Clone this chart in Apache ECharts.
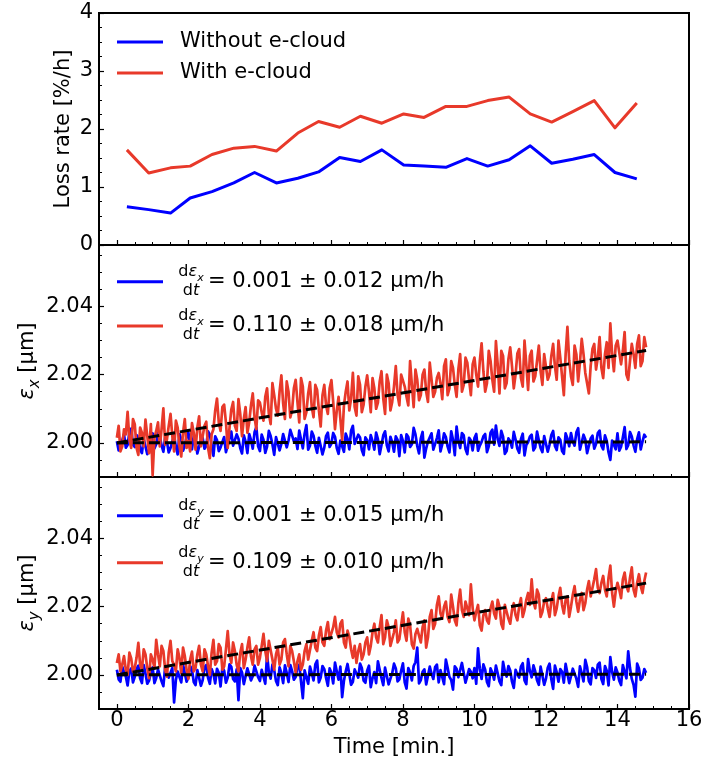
<!DOCTYPE html>
<html><head><meta charset="utf-8">
<script src="https://cdn.jsdelivr.net/npm/echarts@6/dist/echarts.min.js"></script>
<style>html,body{margin:0;padding:0;background:#fff}#c{width:706px;height:758px}</style>
</head><body><div id="c"></div>
<script>
// ---------- data ----------
const lossTime = [0.28,0.89,1.50,2.05,2.66,3.27,3.85,4.46,5.06,5.64,6.23,6.81,7.41,8.02,8.59,9.20,9.79,10.37,10.97,11.56,12.16,12.75,13.35,13.93,14.54];
const lossWithout = [0.66,0.61,0.55,0.81,0.92,1.07,1.25,1.07,1.15,1.26,1.51,1.44,1.64,1.38,1.36,1.34,1.49,1.36,1.47,1.71,1.41,1.48,1.56,1.25,1.14];
const lossWith = [1.64,1.24,1.33,1.36,1.56,1.67,1.70,1.62,1.93,2.13,2.03,2.22,2.10,2.26,2.20,2.39,2.39,2.49,2.55,2.26,2.12,2.30,2.49,2.02,2.45];

const time = [0,0.05,0.1,0.15,0.2,0.25,0.3,0.35,0.4,0.45,0.5,0.55,0.6,0.65,0.7,0.75,0.8,0.85,0.9,0.95,
1,1.05,1.1,1.15,1.2,1.25,1.3,1.35,1.4,1.45,1.5,1.55,1.6,1.65,1.7,1.75,1.8,1.85,1.9,1.95,
2,2.05,2.1,2.15,2.2,2.25,2.3,2.35,2.4,2.45,2.5,2.55,2.6,2.65,2.7,2.75,2.8,2.85,2.9,2.95,
3,3.05,3.1,3.15,3.2,3.25,3.3,3.35,3.4,3.45,3.5,3.55,3.6,3.65,3.7,3.75,3.8,3.85,3.9,3.95,
4,4.05,4.1,4.15,4.2,4.25,4.3,4.35,4.4,4.45,4.5,4.55,4.6,4.65,4.7,4.75,4.8,4.85,4.9,4.95,
5,5.05,5.1,5.15,5.2,5.25,5.3,5.35,5.4,5.45,5.5,5.55,5.6,5.65,5.7,5.75,5.8,5.85,5.9,5.95,
6,6.05,6.1,6.15,6.2,6.25,6.3,6.35,6.4,6.45,6.5,6.55,6.6,6.65,6.7,6.75,6.8,6.85,6.9,6.95,
7,7.05,7.1,7.15,7.2,7.25,7.3,7.35,7.4,7.45,7.5,7.55,7.6,7.65,7.7,7.75,7.8,7.85,7.9,7.95,
8,8.05,8.1,8.15,8.2,8.25,8.3,8.35,8.4,8.45,8.5,8.55,8.6,8.65,8.7,8.75,8.8,8.85,8.9,8.95,
9,9.05,9.1,9.15,9.2,9.25,9.3,9.35,9.4,9.45,9.5,9.55,9.6,9.65,9.7,9.75,9.8,9.85,9.9,9.95,
10,10.05,10.1,10.15,10.2,10.25,10.3,10.35,10.4,10.45,10.5,10.55,10.6,10.65,10.7,10.75,10.8,10.85,10.9,10.95,
11,11.05,11.1,11.15,11.2,11.25,11.3,11.35,11.4,11.45,11.5,11.55,11.6,11.65,11.7,11.75,11.8,11.85,11.9,11.95,
12,12.05,12.1,12.15,12.2,12.25,12.3,12.35,12.4,12.45,12.5,12.55,12.6,12.65,12.7,12.75,12.8,12.85,12.9,12.95,
13,13.05,13.1,13.15,13.2,13.25,13.3,13.35,13.4,13.45,13.5,13.55,13.6,13.65,13.7,13.75,13.8,13.85,13.9,13.95,
14,14.05,14.1,14.15,14.2,14.25,14.3,14.35,14.4,14.45,14.5,14.55,14.6,14.65,14.7,14.75,14.8];

const epsXWithout = [2.0005,1.9978,1.9982,2.0007,2.0025,1.9986,1.9994,2.0030,2.0042,1.9995,1.9988,2.0023,2.0016,1.9981,1.9970,2.0012,2.0009,1.9967,1.9979,2.0006,
2.0028,1.9984,1.9996,2.0029,2.0019,1.9993,1.9974,2.0015,2.0003,1.9972,1.9985,2.0004,2.0022,1.9989,1.9966,2.0026,2.0011,1.9977,1.9992,2.0018,
2.0031,1.9991,1.9981,2.0021,2.0006,1.9969,1.9973,2.0008,2.0014,1.9983,1.9991,2.0034,2.0024,1.9994,1.9962,2.0019,2.0008,1.9976,1.9987,2.0003,
2.0017,1.9973,1.9978,2.0013,2.0033,1.9992,1.9995,2.0025,2.0012,1.9985,1.9969,2.0022,2.0004,1.9970,2.0026,2.0009,1.9983,2.0031,2.0046,1.9990,
1.9976,2.0024,2.0009,1.9971,1.9989,2.0035,2.0020,1.9996,1.9965,2.0017,2.0015,1.9978,1.9997,2.0026,2.0029,1.9987,2.0007,2.0038,2.0041,2.0005,
2.0013,1.9982,2.0036,2.0010,1.9984,2.0027,2.0052,1.9980,1.9992,2.0033,2.0021,1.9991,1.9971,2.0015,2.0010,1.9966,1.9986,2.0020,2.0030,1.9988,
1.9998,2.0029,2.0018,1.9985,1.9968,2.0007,2.0005,1.9974,2.0027,2.0012,1.9981,2.0036,2.0050,1.9997,1.9993,2.0024,2.0016,1.9979,1.9964,2.0016,
2.0008,1.9981,2.0023,2.0005,1.9980,2.0030,2.0011,1.9967,1.9994,2.0022,2.0034,1.9993,1.9975,2.0018,2.0002,1.9974,2.0019,2.0009,1.9961,2.0023,
2.0006,1.9972,2.0025,2.0017,1.9988,1.9996,2.0044,2.0025,1.9991,1.9969,2.0013,2.0032,1.9957,1.9984,2.0004,2.0008,2.0028,1.9980,1.9982,2.0014,
2.0037,1.9975,1.9996,2.0028,2.0017,1.9989,1.9972,2.0034,2.0009,1.9964,2.0048,2.0006,1.9985,2.0029,2.0022,1.9982,1.9967,2.0015,2.0007,1.9978,
2.0014,2.0026,1.9977,1.9992,2.0003,2.0019,2.0026,1.9973,1.9990,2.0030,2.0039,1.9995,2.0051,2.0011,1.9991,2.0035,2.0018,1.9968,1.9976,2.0013,
2.0005,1.9986,2.0032,2.0010,1.9983,1.9971,2.0011,2.0027,1.9963,1.9994,2.0002,2.0018,2.0024,1.9978,1.9987,2.0033,2.0008,1.9985,1.9973,2.0020,
2.0016,1.9974,1.9995,2.0023,2.0035,1.9991,1.9979,2.0016,2.0009,1.9976,1.9968,2.0028,2.0013,1.9990,2.0029,2.0004,1.9992,2.0031,2.0043,1.9980,
1.9984,2.0024,2.0010,1.9970,1.9975,2.0013,2.0021,1.9983,1.9997,2.0029,2.0036,1.9992,1.9981,2.0022,2.0006,1.9972,1.9950,2.0007,2.0012,1.9981,
2.0028,1.9977,1.9989,2.0016,2.0046,1.9982,1.9993,2.0032,2.0019,1.9993,1.9974,2.0011,2.0031,1.9981,2.0004,2.0024,2.0015];

const epsXWith = [2.0015,2.0050,1.9975,1.9990,2.0040,2.0025,2.0091,2.0010,1.9985,2.0070,2.0055,1.9985,1.9965,2.0045,2.0030,1.9990,2.0068,2.0020,1.9970,2.0055,
1.9905,2.0015,2.0035,2.0060,1.9990,2.0040,2.0101,1.9995,2.0010,2.0050,2.0085,2.0020,1.9975,2.0065,2.0045,1.9990,1.9960,2.0030,2.0070,1.9985,
2.0005,1.9975,2.0058,2.0030,1.9980,2.0045,2.0078,1.9990,2.0020,2.0050,2.0062,1.9985,1.9955,2.0025,2.0040,2.0095,2.0130,2.0060,2.0035,2.0105,
2.0112,2.0060,1.9985,2.0045,2.0098,2.0120,2.0050,2.0035,2.0128,2.0085,2.0020,2.0070,2.0105,2.0030,2.0060,2.0110,2.0145,2.0075,2.0040,2.0125,
2.0118,2.0090,2.0065,2.0135,2.0160,2.0085,2.0055,2.0175,2.0140,2.0100,2.0080,2.0150,2.0198,2.0115,2.0070,2.0180,2.0150,2.0075,2.0095,2.0160,
2.0185,2.0120,2.0060,2.0190,2.0165,2.0070,2.0090,2.0145,2.0178,2.0105,2.0075,2.0170,2.0155,2.0095,2.0048,2.0140,2.0170,2.0110,2.0085,2.0160,
2.0184,2.0120,2.0040,2.0095,2.0135,2.0070,2.0008,2.0110,2.0150,2.0180,2.0095,2.0130,2.0205,2.0105,2.0080,2.0195,2.0170,2.0090,2.0112,2.0165,
2.0198,2.0150,2.0090,2.0190,2.0160,2.0100,2.0118,2.0180,2.0210,2.0130,2.0085,2.0200,2.0175,2.0095,2.0120,2.0165,2.0225,2.0140,2.0110,2.0200,
2.0195,2.0165,2.0135,2.0110,2.0240,2.0170,2.0105,2.0215,2.0185,2.0125,2.0140,2.0200,2.0215,2.0150,2.0120,2.0235,2.0230,2.0135,2.0150,2.0190,
2.0205,2.0175,2.0128,2.0225,2.0245,2.0140,2.0160,2.0240,2.0220,2.0170,2.0135,2.0215,2.0260,2.0150,2.0170,2.0250,2.0235,2.0185,2.0140,2.0230,
2.0250,2.0200,2.0165,2.0240,2.0292,2.0210,2.0150,2.0175,2.0270,2.0240,2.0185,2.0150,2.0298,2.0230,2.0145,2.0270,2.0255,2.0160,2.0175,2.0245,
2.0280,2.0225,2.0160,2.0200,2.0262,2.0275,2.0190,2.0165,2.0300,2.0230,2.0155,2.0255,2.0270,2.0180,2.0195,2.0240,2.0285,2.0210,2.0170,2.0260,
2.0265,2.0185,2.0200,2.0255,2.0290,2.0225,2.0185,2.0300,2.0250,2.0195,2.0140,2.0260,2.0340,2.0240,2.0195,2.0170,2.0285,2.0260,2.0180,2.0235,
2.0305,2.0260,2.0205,2.0175,2.0145,2.0225,2.0275,2.0290,2.0215,2.0250,2.0310,2.0220,2.0190,2.0260,2.0295,2.0220,2.0350,2.0260,2.0210,2.0285,
2.0300,2.0265,2.0230,2.0270,2.0325,2.0200,2.0185,2.0240,2.0290,2.0260,2.0220,2.0290,2.0315,2.0225,2.0240,2.0310,2.0280];

const epsYWithout = [2.0015,1.9987,1.9980,2.0024,2.0008,1.9995,1.9969,2.0011,2.0019,1.9978,1.9994,2.0018,2.0027,1.9990,1.9976,2.0029,2.0004,1.9974,1.9983,2.0007,
2.0022,1.9976,1.9991,2.0016,2.0013,1.9981,1.9967,2.0023,2.0006,1.9992,1.9988,2.0020,1.9919,1.9985,2.0010,2.0009,1.9978,2.0030,2.0025,1.9980,
1.9993,2.0026,2.0016,1.9979,1.9970,2.0014,2.0009,1.9968,1.9985,2.0022,2.0029,1.9991,1.9974,2.0017,2.0003,1.9975,2.0018,2.0006,1.9966,2.0021,
2.0012,1.9977,1.9992,2.0031,2.0024,1.9988,1.9981,2.0016,1.9926,2.0020,2.0007,1.9973,1.9977,2.0019,2.0015,1.9984,1.9996,2.0027,2.0032,1.9993,
1.9982,2.0015,2.0020,1.9974,2.0059,2.0008,1.9989,2.0030,2.0014,1.9982,1.9970,2.0022,2.0005,1.9976,2.0028,2.0006,1.9979,2.0029,2.0011,1.9986,
1.9994,2.0023,2.0030,1.9981,1.9932,2.0013,2.0009,1.9974,2.0024,2.0005,1.9984,2.0031,2.0042,1.9978,1.9992,2.0026,2.0017,1.9991,1.9968,2.0019,
2.0006,1.9975,2.0036,2.0010,1.9986,2.0024,1.9935,1.9983,2.0010,2.0032,2.0029,1.9971,1.9980,2.0016,2.0004,1.9992,2.0033,2.0020,1.9983,1.9977,
2.0012,2.0027,1.9964,1.9990,2.0008,1.9976,2.0040,2.0015,1.9991,1.9970,2.0021,2.0026,1.9972,1.9989,2.0005,2.0033,2.0019,1.9981,1.9987,2.0012,
2.0034,1.9978,1.9960,2.0020,2.0007,1.9984,2.0026,2.0037,2.0080,1.9975,1.9985,2.0009,2.0016,1.9972,1.9969,2.0024,2.0003,1.9988,2.0023,2.0030,
1.9978,2.0014,2.0011,1.9973,2.0045,2.0021,1.9994,1.9985,1.9957,2.0025,2.0018,1.9993,1.9990,2.0035,2.0031,1.9977,1.9975,2.0017,2.0009,1.9990,
2.0020,1.9974,2.0078,2.0018,1.9988,2.0031,2.0015,1.9979,1.9967,2.0019,2.0006,1.9986,2.0027,2.0023,1.9981,1.9970,2.0038,2.0010,1.9995,2.0026,
2.0013,1.9980,1.9962,2.0015,2.0002,1.9992,2.0024,2.0034,1.9984,1.9973,2.0046,2.0011,1.9993,2.0028,2.0010,1.9984,1.9971,2.0024,2.0022,1.9971,
1.9989,2.0021,2.0033,1.9987,1.9959,2.0027,2.0008,1.9980,2.0017,2.0009,1.9977,2.0032,2.0030,1.9976,1.9996,2.0018,2.0014,1.9989,1.9965,2.0025,
2.0005,1.9981,2.0044,2.0023,1.9982,1.9972,2.0020,2.0014,1.9991,2.0030,2.0036,1.9988,1.9973,2.0026,2.0012,1.9969,2.0052,2.0008,1.9986,2.0022,
2.0007,1.9983,1.9970,2.0029,2.0025,1.9990,2.0069,2.0020,1.9988,1.9971,1.9936,2.0033,2.0019,1.9985,1.9992,2.0017,2.0006];

const epsYWith = [2.0035,2.0060,2.0010,2.0030,2.0055,2.0015,2.0000,2.0065,2.0048,2.0010,2.0020,2.0050,2.0094,2.0030,2.0015,2.0075,2.0060,2.0020,1.9990,2.0060,
2.0045,2.0020,2.0103,2.0060,2.0025,2.0085,2.0070,2.0015,1.9995,2.0065,2.0100,2.0040,2.0030,2.0010,2.0075,2.0050,2.0005,2.0080,2.0055,2.0015,
1.9988,2.0045,2.0068,2.0010,2.0020,2.0060,2.0085,2.0030,2.0010,2.0075,2.0060,2.0025,2.0000,2.0065,2.0103,2.0030,2.0040,2.0090,2.0080,2.0015,
2.0025,2.0075,2.0128,2.0060,2.0035,2.0095,2.0070,2.0030,2.0010,2.0065,2.0090,2.0020,2.0045,2.0080,2.0110,2.0055,2.0030,2.0075,2.0085,2.0030,
2.0050,2.0085,2.0120,2.0070,2.0040,2.0100,2.0095,2.0045,2.0015,2.0060,2.0080,2.0030,2.0045,2.0095,2.0105,2.0060,2.0025,2.0085,2.0070,2.0040,
2.0006,2.0040,2.0060,2.0015,2.0030,2.0070,2.0090,2.0045,2.0050,2.0100,2.0125,2.0080,2.0070,2.0115,2.0140,2.0095,2.0085,2.0130,2.0155,2.0105,
2.0100,2.0140,2.0170,2.0125,2.0110,2.0150,2.0160,2.0095,2.0080,2.0130,2.0112,2.0075,2.0050,2.0085,2.0035,2.0070,2.0090,2.0045,2.0060,2.0095,
2.0110,2.0060,2.0085,2.0125,2.0150,2.0110,2.0095,2.0140,2.0175,2.0090,2.0110,2.0160,2.0140,2.0085,2.0080,2.0125,2.0160,2.0095,2.0105,2.0145,
2.0183,2.0125,2.0100,2.0165,2.0145,2.0090,2.0077,2.0120,2.0135,2.0115,2.0095,2.0140,2.0160,2.0080,2.0110,2.0170,2.0190,2.0135,2.0150,2.0205,
2.0230,2.0180,2.0165,2.0200,2.0215,2.0170,2.0155,2.0235,2.0200,2.0160,2.0145,2.0210,2.0250,2.0190,2.0170,2.0215,2.0220,2.0175,2.0265,2.0195,
2.0160,2.0185,2.0205,2.0145,2.0130,2.0175,2.0190,2.0160,2.0150,2.0195,2.0215,2.0180,2.0165,2.0220,2.0200,2.0150,2.0135,2.0205,2.0185,2.0165,
2.0150,2.0190,2.0210,2.0175,2.0160,2.0200,2.0225,2.0170,2.0190,2.0220,2.0240,2.0205,2.0280,2.0215,2.0195,2.0250,2.0235,2.0170,2.0185,2.0215,
2.0225,2.0195,2.0170,2.0215,2.0240,2.0175,2.0195,2.0230,2.0255,2.0205,2.0180,2.0220,2.0230,2.0170,2.0200,2.0235,2.0260,2.0215,2.0185,2.0220,
2.0240,2.0190,2.0210,2.0250,2.0275,2.0230,2.0225,2.0280,2.0310,2.0255,2.0240,2.0270,2.0290,2.0250,2.0230,2.0285,2.0320,2.0240,2.0200,2.0245,
2.0270,2.0250,2.0225,2.0280,2.0300,2.0260,2.0245,2.0285,2.0315,2.0250,2.0230,2.0270,2.0295,2.0260,2.0240,2.0275,2.0300];

const fitTime = [0, 14.8];
const fitXWithout = [2.0000, 2.0003];
const fitXWith = [2.0000, 2.0271];
const fitYWithout = [2.0000, 2.0002];
const fitYWith = [2.0000, 2.0269];

const xTicks = [0,2,4,6,8,10,12,14,16];
const lossTicks = [0,1,2,3,4];
const epsTicks = [2.00,2.02,2.04];
const lossLegend = ['Without e-cloud','With e-cloud'];
const epsXLegend = ['= 0.001 ± 0.012 μm/h','= 0.110 ± 0.018 μm/h'];
const epsYLegend = ['= 0.001 ± 0.015 μm/h','= 0.109 ± 0.010 μm/h'];

// ---------- style ----------
const BLUE = '#0000ff', RED = '#e8392a';
const FONT = 'DejaVu Sans';
const FS = 21;
function minors(lo, hi, step, majors) {
  const out = [];
  const n = Math.round((hi - lo) / step);
  for (let i = 0; i <= n; i++) {
    const v = +(lo + i * step).toFixed(4);
    if (!majors.some(m => Math.abs(m - v) < 1e-6)) out.push(v);
  }
  return out;
}
const xMinor = minors(0, 16, 0.5, xTicks);
const lossMinor = minors(0, 4, 0.25, lossTicks);
const epsMinor = minors(1.99, 2.055, 0.005, epsTicks);

const GL = 99, GW = 590, GH = 232, tops = [13, 245, 477];
const grids = tops.map(t => ({left: GL, top: t, width: GW, height: GH, show: true,
  borderColor: '#000', borderWidth: 2, backgroundColor: 'transparent'}));

const xAxes = [], yAxes = [];
const yCfg = [
  {min: 0, max: 4, major: lossTicks, minor: lossMinor, fmt: v => String(Math.round(v))},
  {min: 1.99, max: 2.058, major: epsTicks, minor: epsMinor, fmt: v => v.toFixed(2)},
  {min: 1.99, max: 2.058, major: epsTicks, minor: epsMinor, fmt: v => v.toFixed(2)}
];
for (let g = 0; g < 3; g++) {
  const base = {type: 'value', gridIndex: g, min: -0.5, max: 16, position: 'bottom',
    axisLine: {show: false, onZero: false}, splitLine: {show: false}};
  xAxes.push(Object.assign({}, base, {
    axisTick: {show: true, inside: true, length: 5, customValues: xTicks, lineStyle: {color: '#000', width: 1.2}},
    axisLabel: {show: g === 2, customValues: xTicks, fontSize: FS, fontFamily: FONT, color: '#000', margin: 1}
  }));
  xAxes.push(Object.assign({}, base, {
    axisTick: {show: true, inside: true, length: 3, customValues: xMinor, lineStyle: {color: '#000', width: 1}},
    axisLabel: {show: false}
  }));
  const c = yCfg[g];
  const yb = {type: 'value', gridIndex: g, min: c.min, max: c.max, position: 'left',
    axisLine: {show: false, onZero: false}, splitLine: {show: false}};
  yAxes.push(Object.assign({}, yb, {
    axisTick: {show: true, inside: true, length: 5, customValues: c.major, lineStyle: {color: '#000', width: 1.2}},
    axisLabel: {show: true, customValues: c.major, formatter: c.fmt, fontSize: FS, fontFamily: FONT, color: '#000', margin: 6}
  }));
  yAxes.push(Object.assign({}, yb, {
    axisTick: {show: true, inside: true, length: 3, customValues: c.minor, lineStyle: {color: '#000', width: 1}},
    axisLabel: {show: false}
  }));
}

function pair(xs, ys) { return xs.map((x, i) => [x, ys[i]]); }
function line(g, data, color, width, z, dash) {
  return {type: 'line', xAxisIndex: 2 * g, yAxisIndex: 2 * g, data: data, symbol: 'none',
    showSymbol: false, animation: false, silent: true, z: z,
    lineStyle: {color: color, width: width, type: dash ? [11, 5] : 'solid', join: 'round', cap: 'butt'}};
}
const series = [
  line(0, pair(lossTime, lossWithout), BLUE, 3, 2),
  line(0, pair(lossTime, lossWith), RED, 3, 3),
  line(1, pair(time, epsXWithout), BLUE, 2.7, 2),
  line(1, pair(time, epsXWith), RED, 2.7, 3),
  line(1, pair(fitTime, fitXWithout), '#000', 3, 4, true),
  line(1, pair(fitTime, fitXWith), '#000', 3, 4, true),
  line(2, pair(time, epsYWithout), BLUE, 2.7, 2),
  line(2, pair(time, epsYWith), RED, 2.7, 3),
  line(2, pair(fitTime, fitYWithout), '#000', 3, 4, true),
  line(2, pair(fitTime, fitYWith), '#000', 3, 4, true)
];

// ---------- legends & labels (graphic) ----------
const graphic = [];
function legLine(y, color) {
  graphic.push({type: 'line', shape: {x1: 117, y1: y, x2: 163, y2: y}, style: {stroke: color, lineWidth: 3}, z: 100});
}
function txt(x, y, text, extra) {
  graphic.push(Object.assign({type: 'text', x: x, y: y, z: 100,
    style: Object.assign({text: text, fontSize: FS, fontFamily: FONT, fill: '#000', align: 'left', verticalAlign: 'middle'}, extra || {})}));
}
// panel 1
legLine(42, BLUE); txt(180, 42, lossLegend[0]);
legLine(73, RED); txt(180, 73, lossLegend[1]);
// fraction helper
const fracRich = {
  a: {fontSize: 16, fontFamily: FONT, fill: '#000', verticalAlign: 'top', padding: [0, 0, 4, 0]},
  b: {fontSize: 16, fontFamily: FONT, fontStyle: 'italic', fill: '#000', verticalAlign: 'top', padding: [0, 0, 4, 0]},
  c: {fontSize: 11, fontFamily: FONT, fontStyle: 'italic', fill: '#000', verticalAlign: 'top', padding: [9, 0, 0, 0]}
};
function frac(cy, sub) {
  graphic.push({type: 'text', x: 191, y: cy - 8, z: 100,
    style: {text: '{a|d}{b|ε}{c|' + sub + '}', rich: fracRich, align: 'center', verticalAlign: 'middle'}});
  graphic.push({type: 'text', x: 191, y: cy + 11, z: 100,
    style: {text: '{a|d}{b|t}', rich: fracRich, align: 'center', verticalAlign: 'middle'}});
}
// panel 2
legLine(281.7, BLUE); frac(281.7, 'x'); txt(208, 281.7, epsXLegend[0]);
legLine(326, RED); frac(326, 'x'); txt(208, 326, epsXLegend[1]);
// panel 3
legLine(515.7, BLUE); frac(515.7, 'y'); txt(208, 515.7, epsYLegend[0]);
legLine(562.7, RED); frac(562.7, 'y'); txt(208, 562.7, epsYLegend[1]);

// axis titles
const titleRich = {
  e: {fontSize: FS, fontFamily: FONT, fontStyle: 'italic', fill: '#000', verticalAlign: 'top', padding: [0, 0, 4, 0]},
  s: {fontSize: 15, fontFamily: FONT, fontStyle: 'italic', fill: '#000', verticalAlign: 'top', padding: [10, 0, 0, 0]},
  n: {fontSize: FS, fontFamily: FONT, fill: '#000', verticalAlign: 'top', padding: [0, 0, 4, 0]}
};
txt(64, 129, 'Loss rate [%/h]', {align: 'center'});
graphic[graphic.length - 1].rotation = Math.PI / 2;
graphic.push({type: 'text', x: 30, y: 361, rotation: Math.PI / 2, z: 100,
  style: {text: '{e|ε}{s|x}{n| [μm]}', rich: titleRich, align: 'center', verticalAlign: 'middle'}});
graphic.push({type: 'text', x: 30, y: 593, rotation: Math.PI / 2, z: 100,
  style: {text: '{e|ε}{s|y}{n| [μm]}', rich: titleRich, align: 'center', verticalAlign: 'middle'}});
txt(394, 748, 'Time [min.]', {align: 'center'});

const chart = echarts.init(document.getElementById('c'), null, {renderer: 'canvas'});
chart.setOption({
  animation: false,
  backgroundColor: '#fff',
  grid: grids,
  xAxis: xAxes,
  yAxis: yAxes,
  series: series,
  graphic: graphic
});
</script>
</body></html>
